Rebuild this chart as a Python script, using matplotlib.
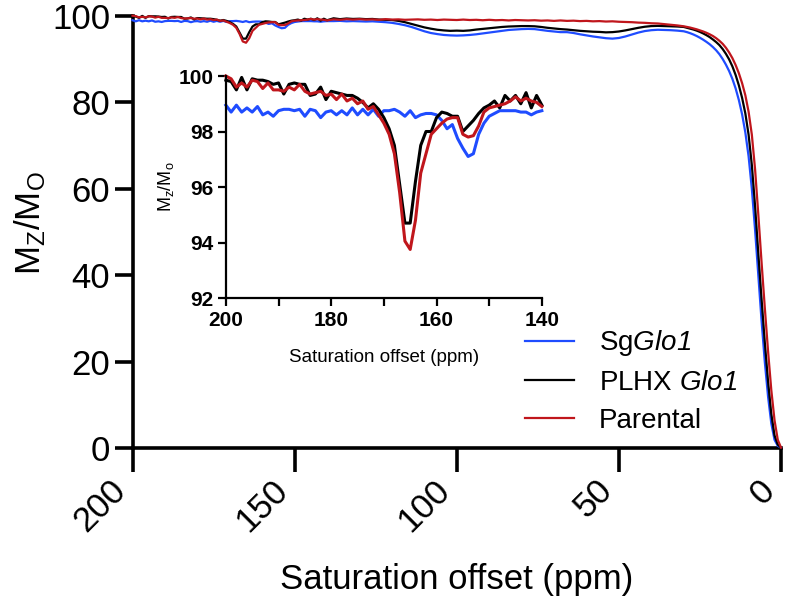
import numpy as np
import matplotlib
matplotlib.use("Agg")
import matplotlib.pyplot as plt
from matplotlib.ticker import MultipleLocator

plt.rcParams['font.family'] = ['Liberation Sans', 'DejaVu Sans']
plt.rcParams['mathtext.fontset'] = 'custom'
plt.rcParams['mathtext.rm'] = 'Liberation Sans'
plt.rcParams['mathtext.sf'] = 'Liberation Sans:italic'
plt.rcParams['mathtext.default'] = 'regular'

# offsets (ppm): 200..140 every 1 ppm (inset range), 138..32 every 2, 30..0 every 1
ppm_fine = np.arange(200, 139, -1)
ppm_mid = np.arange(138, 31, -2)
ppm_end = np.arange(30, -1, -1)

# SgGlo1
sg_fine = [98.95, 98.70, 98.95, 98.70, 98.85, 98.70, 98.90, 98.60, 98.70, 98.55,
           98.75, 98.80, 98.80, 98.75, 98.80, 98.55, 98.80, 98.75, 98.50, 98.70,
           98.75, 98.60, 98.75, 98.60, 98.85, 98.60, 98.80, 98.60, 98.80, 98.55,
           98.75, 98.75, 98.80, 98.70, 98.55, 98.75, 98.50, 98.60, 98.65, 98.65,
           98.60, 98.40, 98.10, 98.25, 97.75, 97.40, 97.10, 97.20, 97.90, 98.30,
           98.55, 98.65, 98.75, 98.75, 98.75, 98.75, 98.70, 98.70, 98.60, 98.70,
           98.75]
sg_mid = [98.75, 98.80, 98.70, 98.75, 98.70, 98.65, 98.70, 98.60, 98.50, 98.35,
          98.10, 97.80, 97.40, 96.90, 96.40, 96.00, 95.75, 95.55, 95.45, 95.40,
          95.45, 95.55, 95.70, 95.90, 96.10, 96.30, 96.50, 96.70, 96.80, 96.90,
          96.95, 96.90, 96.70, 96.50, 96.35, 96.20, 96.20, 96.00, 95.70, 95.45,
          95.20, 95.00, 94.80, 94.70, 94.85, 95.20, 95.65, 96.10, 96.45, 96.65,
          96.75, 96.70, 96.65, 96.55]
sg_end = [96.40, 96.20, 95.95, 95.65, 95.30, 94.90, 94.45, 93.95, 93.40, 92.75,
          92.00, 91.10, 90.00, 88.70, 87.20, 85.40, 83.20, 80.50, 77.20, 73.00,
          67.50, 60.00, 50.50, 40.00, 29.50, 20.00, 12.00, 5.80, 2.00, 0.60,
          0.20]

# PLHX Glo1
plhx_fine = [99.85, 99.80, 99.50, 99.95, 99.50, 99.90, 99.85, 99.85, 99.80, 99.70,
             99.75, 99.35, 99.70, 99.75, 99.70, 99.70, 99.30, 99.35, 99.60, 99.15,
             99.45, 99.40, 99.35, 99.30, 99.30, 99.20, 99.05, 98.85, 99.00, 98.80,
             98.50, 98.10, 97.50, 96.10, 94.70, 94.70, 96.20, 97.50, 98.00, 98.00,
             98.50, 98.70, 98.65, 98.55, 98.55, 98.00, 98.20, 98.40, 98.65, 98.85,
             98.95, 99.10, 98.85, 99.30, 99.10, 99.30, 99.00, 99.40, 98.85, 99.30,
             98.95]
plhx_mid = [99.40, 99.20, 99.35, 99.25, 99.30, 99.20, 99.25, 99.10, 99.05, 99.00,
            98.80, 98.50, 98.10, 97.70, 97.30, 97.00, 96.75, 96.60, 96.50, 96.55,
            96.50, 96.60, 96.80, 96.95, 97.10, 97.25, 97.40, 97.50, 97.55, 97.60,
            97.60, 97.55, 97.40, 97.20, 97.05, 96.90, 96.80, 96.65, 96.50, 96.40,
            96.30, 96.25, 96.15, 96.20, 96.35, 96.60, 96.90, 97.20, 97.45, 97.60,
            97.65, 97.60, 97.55, 97.50]
plhx_end = [97.40, 97.20, 97.00, 96.80, 96.55, 96.25, 95.90, 95.50, 95.05, 94.50,
            93.90, 93.20, 92.30, 91.20, 89.90, 88.30, 86.30, 83.90, 81.00, 77.40,
            72.50, 65.50, 56.00, 45.00, 34.50, 24.50, 15.50, 8.00, 3.00, 0.90,
            0.20]

# Parental
par_fine = [100.0, 99.90, 99.60, 99.75, 99.60, 99.85, 99.80, 99.55, 99.75, 99.50,
            99.50, 99.45, 99.60, 99.50, 99.70, 99.45, 99.35, 99.40, 99.45, 99.30,
            99.35, 99.15, 99.35, 99.10, 99.20, 99.00, 99.10, 98.80, 98.90, 98.60,
            98.30, 97.90, 97.20, 95.80, 94.05, 93.75, 94.80, 96.50, 97.20, 97.90,
            98.10, 98.30, 98.45, 98.50, 98.50, 97.90, 97.80, 97.85, 98.20, 98.70,
            98.85, 98.90, 98.95, 99.00, 99.10, 99.25, 99.10, 99.20, 99.10, 99.05,
            98.90]
par_mid = [99.15, 99.05, 99.20, 99.10, 99.20, 99.10, 99.15, 99.05, 99.20, 99.10,
           99.15, 99.05, 99.10, 99.15, 99.05, 99.10, 99.00, 99.10, 99.05, 99.00,
           99.10, 99.00, 99.05, 98.95, 99.05, 98.95, 99.00, 98.90, 99.00, 98.95,
           98.90, 98.95, 98.85, 98.90, 98.80, 98.90, 98.80, 98.85, 98.75, 98.80,
           98.70, 98.75, 98.65, 98.70, 98.60, 98.55, 98.50, 98.40, 98.35, 98.25,
           98.20, 98.05, 97.90, 97.75]
par_end = [97.55, 97.40, 97.25, 97.05, 96.85, 96.60, 96.35, 96.05, 95.70, 95.30,
           94.80, 94.20, 93.50, 92.60, 91.50, 90.20, 88.60, 86.70, 84.40, 81.60,
           77.80, 72.50, 64.50, 54.00, 43.00, 32.50, 22.50, 13.50, 6.50, 2.00,
           0.20]

labels = [r"Sg$\mathsf{Glo1}$", r"PLHX $\mathsf{Glo1}$", "Parental"]
colors = ["#1f4cff", "#000000", "#c0161c"]
fine = [sg_fine, plhx_fine, par_fine]
full = [sg_fine + sg_mid + sg_end, plhx_fine + plhx_mid + plhx_end,
        par_fine + par_mid + par_end]
ppm_all = np.concatenate([ppm_fine, ppm_mid, ppm_end])

fig = plt.figure(figsize=(7.87, 5.99), dpi=100)
ax = fig.add_axes([0.1684, 0.2513, 0.824, 0.7225])
lines = []
for y, c, lab in zip(full, colors, labels):
    l, = ax.plot(ppm_all, y, color=c, lw=1.6, label=lab, clip_on=False, zorder=3)
    lines.append(l)
ax.set_xlim(200, 0)
ax.set_ylim(0, 100)
ax.set_xticks([200, 150, 100, 50, 0])
ax.set_yticks([0, 20, 40, 60, 80, 100])
for s in ["top", "right"]:
    ax.spines[s].set_visible(False)
for s in ["left", "bottom"]:
    ax.spines[s].set_linewidth(2.6)
ax.tick_params(axis="y", length=13, width=2.6, labelsize=25, pad=3)
ax.tick_params(axis="x", length=17, width=2.6, labelsize=25, pad=1)
for t in ax.get_xticklabels():
    t.set_rotation(45)
    t.set_ha("right")
    t.set_va("top")
ax.set_xlabel("Saturation offset (ppm)", fontsize=25, labelpad=18)
ax.set_ylabel(r"M$_\mathregular{Z}$/M$_\mathregular{O}$", fontsize=25)
ax.yaxis.set_label_coords(-0.13, 0.52)

leg = fig.legend(handles=lines, loc="upper left", bbox_to_anchor=(0.667, 0.452),
                 frameon=False, fontsize=20, handlelength=1.75, handletextpad=0.9,
                 labelspacing=0.42, borderpad=0, borderaxespad=0)

# inset
axi = fig.add_axes([0.287, 0.5025, 0.4015, 0.3706])
axi.patch.set_alpha(0)
for y, c in zip(fine, colors):
    axi.plot(ppm_fine, y, color=c, lw=2.2, clip_on=False)
axi.set_xlim(200, 140)
axi.set_ylim(92, 100)
axi.set_xticks([200, 180, 160, 140])
axi.xaxis.set_minor_locator(MultipleLocator(10))
axi.set_yticks([92, 94, 96, 98, 100])
for s in ["top", "right"]:
    axi.spines[s].set_visible(False)
for s in ["left", "bottom"]:
    axi.spines[s].set_linewidth(1.6)
axi.tick_params(axis="both", which="both", length=6, width=1.6, labelsize=15, pad=3)
for t in axi.get_xticklabels() + axi.get_yticklabels():
    t.set_fontweight("bold")
axi.set_xlabel("Saturation offset (ppm)", fontsize=13.5, labelpad=14)
axi.set_ylabel(r"M$_\mathregular{z}$/M$_\mathregular{o}$", fontsize=13, labelpad=2)

fig.savefig("out.png", dpi=100)
